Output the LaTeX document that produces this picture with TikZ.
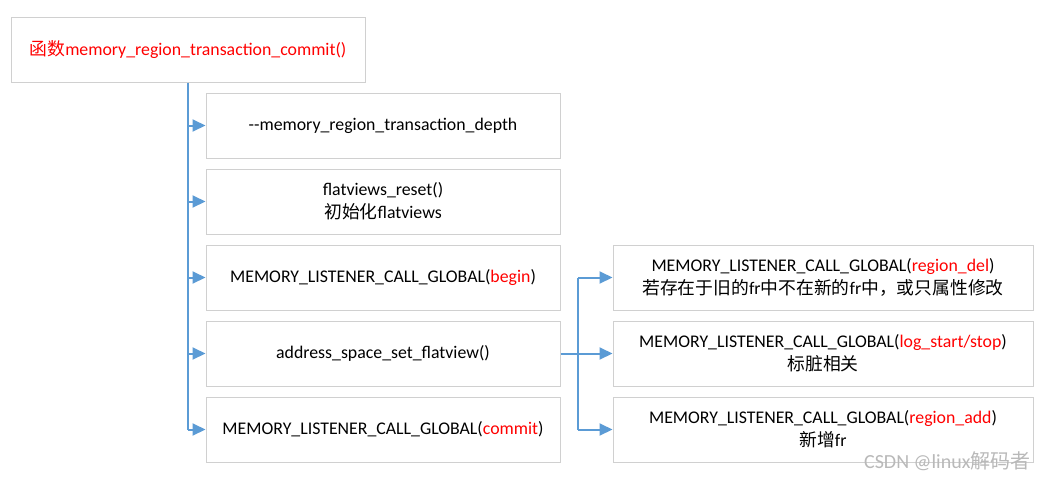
\documentclass[tikz,border=0pt]{standalone}
\usepackage{fontspec}
\setmainfont{Carlito}
\newfontfamily\cjk{Noto Sans CJK SC}
\usetikzlibrary{arrows.meta}
\definecolor{lineblue}{HTML}{5B9BD5}
\definecolor{boxgray}{HTML}{D0D0D0}
\definecolor{redtxt}{HTML}{FF0000}
\tikzset{
  box/.style={draw=boxgray, line width=1pt, fill=white, minimum width=354pt, minimum height=65pt, align=center, inner sep=0pt, font=\fontsize{17.8}{23}\selectfont, text=black},
  rbox/.style={box, minimum width=420pt},
  conn/.style={draw=lineblue, line width=2pt},
  arr/.style={conn, -{Triangle[length=13pt,width=12pt]}},
}
\newcommand{\rd}[1]{\textcolor{redtxt}{#1}}
\begin{document}
\begin{tikzpicture}[x=1pt,y=-1pt]
\useasboundingbox[fill=white] (0,0) rectangle (1050,480);
\node[box] (top) at (188,49.5) {\rd{\cjk 函数}\rd{memory\_region\_transaction\_commit()}};
\node[box] (b1) at (383,125.5) {-{}-memory\_region\_transaction\_depth};
\node[box] (b2) at (383,201.5) {flatviews\_reset()\\{\cjk 初始化}flatviews};
\node[box] (b3) at (383,277.5) {MEMORY\_LISTENER\_CALL\_GLOBAL(\rd{begin})};
\node[box] (b4) at (383,353.5) {address\_space\_set\_flatview()};
\node[box] (b5) at (383,429.5) {MEMORY\_LISTENER\_CALL\_GLOBAL(\rd{commit})};
\node[rbox] (r1) at (823,277.5) {MEMORY\_LISTENER\_CALL\_GLOBAL(\rd{region\_del})\\{\cjk 若存在于旧的}fr{\cjk 中不在新的}fr{\cjk 中，或只属性修改}};
\node[rbox] (r2) at (823,353.5) {MEMORY\_LISTENER\_CALL\_GLOBAL(\rd{log\_start/stop})\\{\cjk 标脏相关}};
\node[rbox] (r3) at (823,429.5) {MEMORY\_LISTENER\_CALL\_GLOBAL(\rd{region\_add})\\{\cjk 新增}fr};
\coordinate (trunkend) at (188,429.5);
\draw[conn] (top.south) -- (trunkend);
\foreach \b in {b1,b2,b3,b4,b5}{
  \draw[arr] (top.south |- \b.west) -- (\b.west);
}
\coordinate (split) at (578,353.5);
\draw[conn] (b4.east) -- (split);
\draw[conn] (split |- r1.west) -- (split |- r3.west);
\foreach \r in {r1,r2,r3}{
  \draw[arr] (split |- \r.west) -- (\r.west);
}
\node[anchor=east, text=gray!55, font=\fontsize{20}{22}\selectfont] (wm) at (1034,461) {CSDN @linux{\cjk 解码者}};
\end{tikzpicture}
\end{document}
